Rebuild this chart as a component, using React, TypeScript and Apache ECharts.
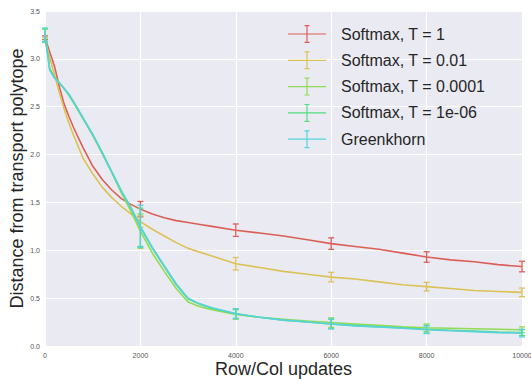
import React, { useEffect, useRef } from "react";
import * as echarts from "echarts";

const X = [0, 100, 200, 300, 400, 500, 600, 800, 1000, 1200, 1400, 1600, 1800, 2000, 2250, 2500, 2750, 3000, 3250, 3500, 4000, 4500, 5000, 5500, 6000, 6500, 7000, 7500, 8000, 8500, 9000, 9500, 10000];

const softmax1 = [3.22, 3.07, 2.92, 2.71, 2.53, 2.40, 2.28, 2.07, 1.88, 1.74, 1.63, 1.54, 1.48, 1.43, 1.38, 1.34, 1.31, 1.29, 1.27, 1.25, 1.21, 1.18, 1.15, 1.11, 1.07, 1.04, 1.01, 0.97, 0.93, 0.90, 0.88, 0.85, 0.83];
const softmax001 = [3.20, 3.01, 2.83, 2.65, 2.48, 2.33, 2.20, 1.96, 1.80, 1.66, 1.55, 1.46, 1.38, 1.30, 1.22, 1.15, 1.08, 1.02, 0.98, 0.94, 0.86, 0.82, 0.78, 0.75, 0.72, 0.70, 0.67, 0.64, 0.62, 0.60, 0.58, 0.57, 0.56];
const softmax00001 = [3.24, 2.90, 2.81, 2.75, 2.69, 2.62, 2.54, 2.37, 2.20, 2.01, 1.81, 1.60, 1.41, 1.20, 0.97, 0.78, 0.60, 0.46, 0.41, 0.38, 0.33, 0.30, 0.28, 0.26, 0.245, 0.23, 0.215, 0.20, 0.19, 0.185, 0.18, 0.175, 0.17];
const softmax1e6 = [3.25, 2.89, 2.80, 2.75, 2.69, 2.63, 2.55, 2.38, 2.21, 2.02, 1.82, 1.62, 1.44, 1.24, 1.02, 0.83, 0.64, 0.49, 0.435, 0.395, 0.335, 0.30, 0.27, 0.25, 0.23, 0.215, 0.20, 0.19, 0.175, 0.165, 0.155, 0.145, 0.14];
const greenkhorn = [3.25, 2.88, 2.80, 2.75, 2.69, 2.63, 2.55, 2.38, 2.21, 2.02, 1.82, 1.62, 1.45, 1.25, 1.03, 0.84, 0.65, 0.50, 0.44, 0.40, 0.34, 0.30, 0.27, 0.25, 0.23, 0.21, 0.20, 0.185, 0.17, 0.16, 0.15, 0.14, 0.135];

const X_ERR = [0, 2000, 4000, 6000, 8000, 10000];
const err1 = [0.02, 0.08, 0.065, 0.06, 0.055, 0.055];
const err001 = [0.02, 0.06, 0.065, 0.05, 0.045, 0.045];
const err00001 = [0.07, 0.18, 0.05, 0.05, 0.04, 0.03];
const err1e6 = [0.07, 0.2, 0.05, 0.05, 0.04, 0.03];
const errGreen = [0.07, 0.22, 0.05, 0.05, 0.04, 0.04];

const NAMES = ["Softmax, T = 1", "Softmax, T = 0.01", "Softmax, T = 0.0001", "Softmax, T = 1e-06", "Greenkhorn"];
const COLORS = ["#db5f57", "#dbc257", "#91db57", "#57db80", "#57d3db"];
const VALUES = [softmax1, softmax001, softmax00001, softmax1e6, greenkhorn];
const ERRS = [err1, err001, err00001, err1e6, errGreen];

const FONT = "'Liberation Sans', Arial, sans-serif";
const ICON =
  "path://M0,8.4 L38,8.4 L38,9.6 L0,9.6 Z M18.4,0 L19.6,0 L19.6,18 L18.4,18 Z M16.5,0 L21.5,0 L21.5,1.2 L16.5,1.2 Z M16.5,16.8 L21.5,16.8 L21.5,18 L16.5,18 Z";

export default function App() {
  const ref = useRef<HTMLDivElement>(null);
  useEffect(() => {
    if (!ref.current) return;
    const chart = echarts.init(ref.current, null, { renderer: "svg" });
    const series: any[] = [];
    VALUES.forEach((vals, i) => {
      const color = COLORS[i];
      series.push({
        name: NAMES[i],
        type: "line",
        data: X.map((x, j) => [x, vals[j]]),
        showSymbol: false,
        symbol: "none",
        lineStyle: { width: 1.6, color },
        itemStyle: { color },
        z: 2 + i,
      });
      series.push({
        name: "err" + i,
        type: "custom",
        data: X_ERR.map((x, j) => {
          const c = vals[X.indexOf(x)];
          return [x, c - ERRS[i][j], c + ERRS[i][j]];
        }),
        encode: { x: 0, y: [1, 2] },
        z: 2 + i,
        renderItem: (params: any, api: any) => {
          const x = api.value(0);
          const p1 = api.coord([x, api.value(1)]);
          const p2 = api.coord([x, api.value(2)]);
          const style = { stroke: color, lineWidth: 1.3 };
          return {
            type: "group",
            children: [
              { type: "line", shape: { x1: p1[0], y1: p1[1], x2: p2[0], y2: p2[1] }, style },
              { type: "line", shape: { x1: p1[0] - 3, y1: p1[1], x2: p1[0] + 3, y2: p1[1] }, style },
              { type: "line", shape: { x1: p2[0] - 3, y1: p2[1], x2: p2[0] + 3, y2: p2[1] }, style },
            ],
          };
        },
      });
    });
    chart.setOption({
      animation: false,
      textStyle: { fontFamily: FONT },
      grid: {
        left: 45,
        right: 9,
        top: 11,
        bottom: 33,
        containLabel: false,
        outerBoundsMode: "none",
        show: true,
        backgroundColor: "#EAEAF2",
        borderWidth: 0,
      },
      legend: {
        data: NAMES,
        orient: "vertical",
        left: 288,
        top: 25,
        padding: 0,
        itemWidth: 38,
        itemHeight: 18,
        itemGap: 8.3,
        icon: ICON,
        itemStyle: { borderWidth: 0 },
        textStyle: {
          fontSize: 16,
          color: "#262626",
          fontFamily: FONT,
          lineHeight: 18,
          padding: [0, 0, 0, 10],
        },
      },
      xAxis: {
        type: "value",
        min: 0,
        max: 10000,
        interval: 2000,
        name: "Row/Col updates",
        nameLocation: "middle",
        nameGap: 14,
        nameMoveOverlap: false,
        nameTextStyle: { fontSize: 18, color: "#262626", fontFamily: FONT },
        axisLine: { show: false },
        axisTick: { show: false },
        axisLabel: {
          fontSize: 7,
          color: "#555555",
          margin: 6,
          fontFamily: FONT,
          formatter: (v: number) => String(v),
        },
        splitLine: { show: true, lineStyle: { color: "#ffffff", width: 1 } },
      },
      yAxis: {
        type: "value",
        min: 0,
        max: 3.5,
        interval: 0.5,
        name: "Distance from transport polytope",
        nameLocation: "middle",
        nameGap: 19,
        nameMoveOverlap: false,
        nameTextStyle: { fontSize: 18, color: "#262626", fontFamily: FONT },
        axisLine: { show: false },
        axisTick: { show: false },
        axisLabel: {
          fontSize: 7,
          color: "#555555",
          margin: 5,
          fontFamily: FONT,
          formatter: (v: number) => v.toFixed(1),
        },
        splitLine: { show: true, lineStyle: { color: "#ffffff", width: 1 } },
      },
      series,
    });
    return () => chart.dispose();
  }, []);
  return (
    <div
      ref={ref}
      style={{ position: "fixed", left: 0, top: 0, width: 531, height: 379, background: "#ffffff" }}
    />
  );
}
